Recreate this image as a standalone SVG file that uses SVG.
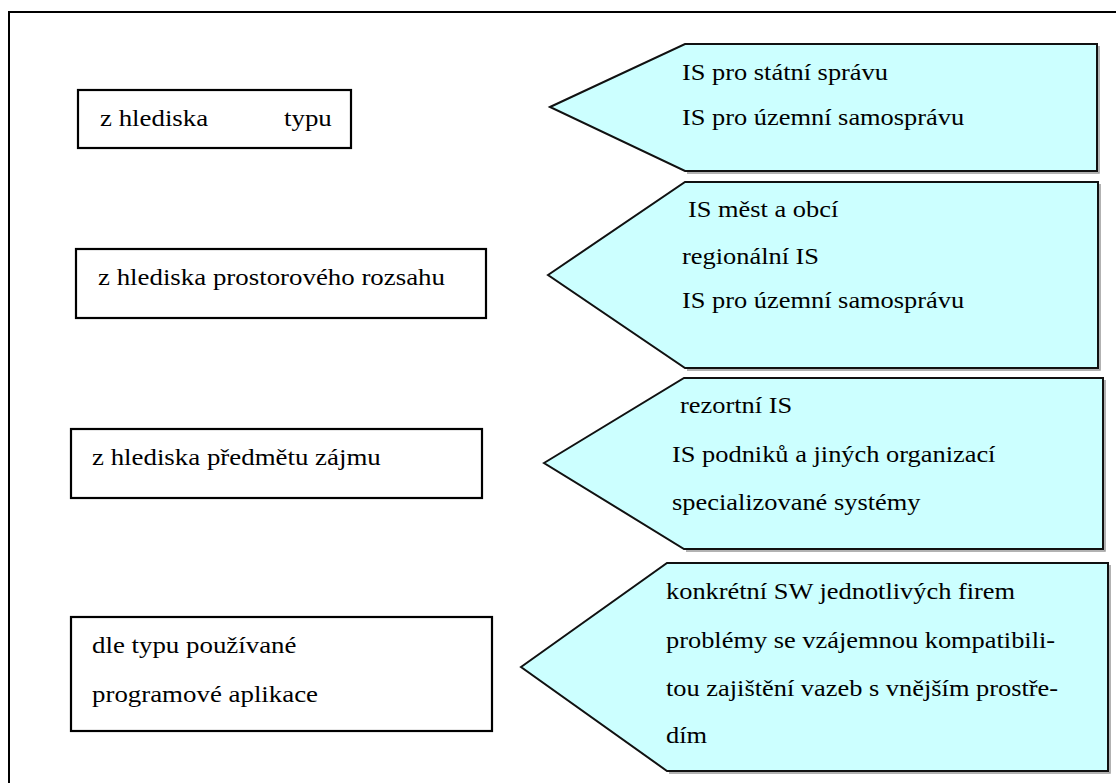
<svg xmlns="http://www.w3.org/2000/svg" width="1116" height="783" viewBox="0 0 1116 783">
<style>
.frame{fill:#fff;stroke:#000;stroke-width:2}
.box{fill:#fff;stroke:#000;stroke-width:2.2}
.arrow{fill:#ccffff;stroke:#111;stroke-width:2}
.shadow{fill:none;stroke:#999;stroke-width:1.5}
text{font-family:"Liberation Serif","Times New Roman",serif;font-size:24px;fill:#000}
</style>
<rect x="0" y="0" width="1116" height="783" fill="#fff"/>
<rect class="frame" x="9" y="12" width="1120" height="800"/>

<g id="box-typ">
<rect class="box" x="78" y="90" width="273" height="58"/>
<text transform="translate(100 126) scale(1.12 1)">z hlediska</text>
<text transform="translate(284 126) scale(1.12 1)">typu</text>
</g>
<g id="box-prostor">
<rect class="box" x="76" y="249" width="410" height="69"/>
<text transform="translate(98 285) scale(1.12 1)">z hlediska prostorového rozsahu</text>
</g>
<g id="box-predmet">
<rect class="box" x="71" y="429" width="411" height="69"/>
<text transform="translate(92 465) scale(1.12 1)">z hlediska předmětu zájmu</text>
</g>
<g id="box-aplikace">
<rect class="box" x="71" y="617" width="421" height="114"/>
<text transform="translate(92 653) scale(1.12 1)">dle typu používané</text>
<text transform="translate(92 702) scale(1.12 1)">programové aplikace</text>
</g>

<g id="callout-typ">
<polyline class="shadow" points="1099,46 1099,173 687,173"/>
<polygon class="arrow" points="550,107 685,44 1097,44 1097,171 685,171"/>
<text transform="translate(682 80) scale(1.1 1)">IS pro státní správu</text>
<text transform="translate(682 125) scale(1.1 1)">IS pro územní samosprávu</text>
</g>
<g id="callout-prostor">
<polyline class="shadow" points="1100,184 1100,370 687,370"/>
<polygon class="arrow" points="548,275 685,182 1098,182 1098,368 685,368"/>
<text transform="translate(688 217) scale(1.1 1)">IS měst a obcí</text>
<text transform="translate(682 264) scale(1.1 1)">regionální IS</text>
<text transform="translate(682 308) scale(1.1 1)">IS pro územní samosprávu</text>
</g>
<g id="callout-predmet">
<polyline class="shadow" points="1105,380 1105,551 686,551"/>
<polygon class="arrow" points="544,463 684,378 1103,378 1103,549 684,549"/>
<text transform="translate(680 413) scale(1.1 1)">rezortní IS</text>
<text transform="translate(672 462) scale(1.1 1)">IS podniků a jiných organizací</text>
<text transform="translate(672 510) scale(1.1 1)">specializované systémy</text>
</g>
<g id="callout-aplikace">
<polyline class="shadow" points="1110,565 1110,773 669,773"/>
<polygon class="arrow" points="521,667 667,563 1108,563 1108,771 667,771"/>
<text transform="translate(666 599) scale(1.1 1)">konkrétní SW jednotlivých firem</text>
<text transform="translate(666 648) scale(1.1 1)">problémy se vzájemnou kompatibili-</text>
<text transform="translate(666 696) scale(1.1 1)">tou zajištění vazeb s vnějším prostře-</text>
<text transform="translate(666 743) scale(1.1 1)">dím</text>
</g>
</svg>
